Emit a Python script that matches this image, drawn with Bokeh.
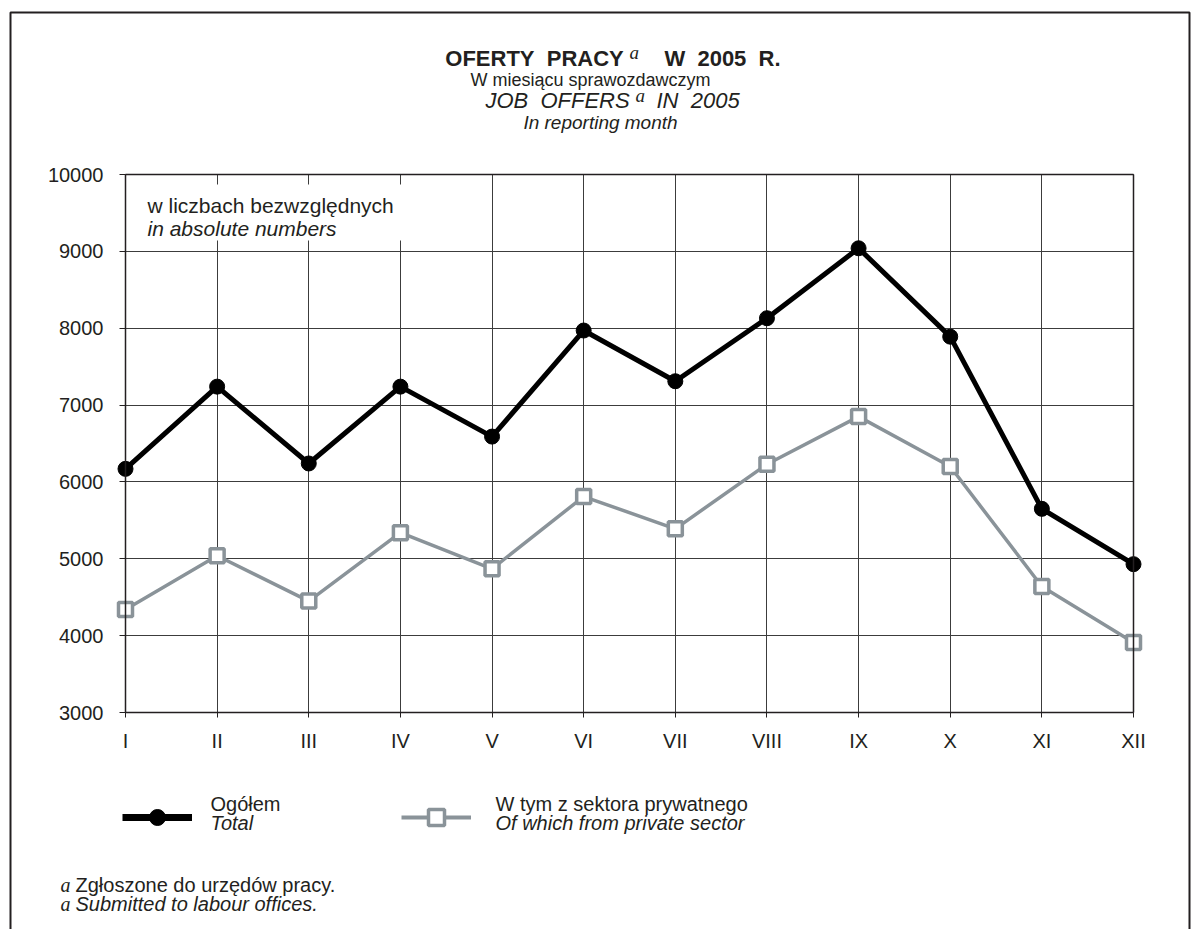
from bokeh.plotting import figure
from bokeh.models import (Range1d, FixedTicker, LinearAxis, Grid, Label, BoxAnnotation,
                          PolyAnnotation, Legend, LegendItem, ColumnDataSource)
from bokeh.embed import file_html
from bokeh.resources import INLINE

# ---------------- data ----------------
months = ["I", "II", "III", "IV", "V", "VI", "VII", "VIII", "IX", "X", "XI", "XII"]
total = [6170, 7240, 6240, 7240, 6590, 7970, 7310, 8130, 9040, 7890, 5650, 4930]
private = [4340, 5040, 4450, 5340, 4870, 5810, 5390, 6230, 6850, 6200, 4640, 3910]
y_ticks = [3000, 4000, 5000, 6000, 7000, 8000, 9000, 10000]

FONT = "Liberation Sans"
SERIF = "Liberation Serif"
INK = "#231f20"
GRID = "#3c3c3c"
GRAY = "#8a9399"
NB = "\u00a0\u00a0"   # wide word gap kept by SVG

# ---------------- geometry (page pixels; canvas starts at page 0,0) ----------------
W, H = 1196, 929
FX0, FX1 = 125, 1133      # first / last month
FY0, FY1 = 174, 712       # 10000 / 3000
N = len(months) - 1
YMIN, YMAX = y_ticks[0], y_ticks[-1]

ux = (FX1 - FX0) / N
uy = (FY1 - FY0) / (YMAX - YMIN)


def dx(px):
    return (px - FX0) / ux


def dy(py):
    return YMAX - (py - FY0) / uy


p = figure(width=W, height=H, output_backend="svg", toolbar_location=None,
           x_range=Range1d(dx(0), dx(W)), y_range=Range1d(dy(H), dy(0)),
           min_border=0, min_border_left=0, min_border_right=0,
           min_border_top=0, min_border_bottom=0,
           x_axis_type=None, y_axis_type=None)
p.outline_line_color = None
p.background_fill_color = "white"
p.border_fill_color = "white"

# ---------------- axes ----------------
xticker = FixedTicker(ticks=list(range(len(months))))
xaxis = LinearAxis(ticker=xticker, bounds=(0, N), fixed_location=YMIN,
                   major_label_overrides={i: m for i, m in enumerate(months)})
xaxis.axis_line_color = INK
xaxis.axis_line_width = 1.5
xaxis.major_tick_line_color = INK
xaxis.major_tick_out = 5
xaxis.major_tick_in = 0
xaxis.minor_tick_line_color = None
xaxis.major_label_standoff = 12
xaxis.major_label_text_font = FONT
xaxis.major_label_text_font_size = "20px"
xaxis.major_label_text_color = INK
p.add_layout(xaxis, "below")

yticker = FixedTicker(ticks=y_ticks)
yaxis = LinearAxis(ticker=yticker, bounds=(YMIN, YMAX), fixed_location=0)
yaxis.axis_line_color = INK
yaxis.axis_line_width = 1.5
yaxis.major_tick_line_color = INK
yaxis.major_tick_out = 6
yaxis.major_tick_in = 0
yaxis.minor_tick_line_color = None
yaxis.major_label_standoff = 16
yaxis.major_label_text_font = FONT
yaxis.major_label_text_font_size = "20px"
yaxis.major_label_text_color = INK
p.add_layout(yaxis, "left")


def frame_axis(loc, side, bounds):
    ax = LinearAxis(ticker=FixedTicker(ticks=[]), bounds=bounds, fixed_location=loc)
    ax.axis_line_color = INK
    ax.axis_line_width = 1.5
    ax.major_tick_line_color = None
    ax.minor_tick_line_color = None
    ax.major_label_text_color = None
    p.add_layout(ax, side)


frame_axis(YMAX, "above", (0, N))
frame_axis(N, "right", (YMIN, YMAX))

xgrid = Grid(dimension=0, ticker=xticker, grid_line_color=GRID, grid_line_width=1,
             bounds=(0, N), cross_bounds=(YMIN, YMAX))
ygrid = Grid(dimension=1, ticker=yticker, grid_line_color=GRID, grid_line_width=1,
             bounds=(YMIN, YMAX), cross_bounds=(0, N))
p.add_layout(xgrid)
p.add_layout(ygrid)

# ---------------- inset note ----------------
p.add_layout(BoxAnnotation(left=dx(143), right=dx(402), top=dy(184), bottom=dy(240),
                           fill_color="white", fill_alpha=1, line_color=None))


def lab(px, py, text, size="20px", style="normal", font=FONT, align="left"):
    p.add_layout(Label(x=dx(px), y=dy(py), text=text, text_font=font, text_font_size=size,
                       text_font_style=style, text_align=align, text_baseline="middle",
                       text_color=INK))


lab(147, 205, "w liczbach bezwzględnych", size="21px")
lab(147, 228, "in absolute numbers", size="21px", style="italic")

# ---------------- series ----------------
src = ColumnDataSource(dict(x=list(range(len(months))), total=total, private=private))
p.line("x", "total", source=src, line_color="black", line_width=5, line_join="round")
p.scatter("x", "total", source=src, marker="circle", size=15, fill_color="black",
          line_color="black", line_width=1)
p.line("x", "private", source=src, line_color=GRAY, line_width=3.5, line_join="round")
p.scatter("x", "private", source=src, marker="square", size=14, fill_color="white",
          line_color=GRAY, line_width=3.5)

# ---------------- legend (samples drawn by Legend from hidden twins) ----------------
l1 = p.line("x", "total", source=src, line_color="black", line_width=7, visible=False)
m1 = p.scatter("x", "total", source=src, marker="circle", size=16, fill_color="black",
               line_color="black", visible=False)
l2 = p.line("x", "private", source=src, line_color=GRAY, line_width=4, visible=False)
m2 = p.scatter("x", "private", source=src, marker="square", size=16, fill_color="white",
               line_color=GRAY, line_width=3.5, visible=False)

LEG_Y = 817
for rends, lx in (([l1, m1], 122), ([l2, m2], 401)):
    leg = Legend(items=[LegendItem(label=" ", renderers=rends)],
                 location=(lx, H - LEG_Y - 20))
    leg.padding = 0
    leg.margin = 0
    leg.spacing = 0
    leg.border_line_color = None
    leg.background_fill_alpha = 0
    leg.inactive_fill_alpha = 0
    leg.glyph_width = 70
    leg.glyph_height = 40
    leg.label_standoff = 0
    leg.label_text_font_size = "1px"
    p.add_layout(leg)

lab(210, 803, "Ogółem", size="20px")
lab(210, 822, "Total", size="20px", style="italic")
lab(495, 803, "W tym z sektora prywatnego", size="20px")
lab(495, 822, "Of which from private sector", size="20px", style="italic")

# ---------------- title ----------------
lab(534, 58, "OFERTY" + NB + "PRACY", size="22px", style="bold", align="center")
lab(629, 52, "a", size="19px", style="italic", font=SERIF)
lab(722, 58, "W" + NB + "2005" + NB + "R.", size="22px", style="bold", align="center")
lab(590, 79, "W miesiącu sprawozdawczym", size="18px", align="center")
lab(557, 100, "JOB" + NB + "OFFERS", size="22px", style="italic", align="center")
lab(635, 95, "a", size="19px", style="italic", font=SERIF)
lab(656, 100, "IN" + NB + "2005", size="22px", style="italic")
lab(600, 122, "In reporting month", size="19px", style="italic", align="center")

# ---------------- footnotes ----------------
lab(60, 884, "a", size="20px", style="italic", font=SERIF)
lab(75, 884, "Zgłoszone do urzędów pracy.", size="20px")
lab(60, 903, "a", size="20px", style="italic", font=SERIF)
lab(75, 903, "Submitted to labour offices.", size="20px", style="italic")

# ---------------- page border (open at bottom) ----------------
p.add_layout(PolyAnnotation(xs=[dx(10), dx(10), dx(1189), dx(1189)],
                            ys=[dy(1400), dy(12), dy(12), dy(1400)],
                            fill_alpha=0, line_color=INK, line_alpha=1, line_width=2))

open("out.html", "w").write(file_html(p, INLINE))
